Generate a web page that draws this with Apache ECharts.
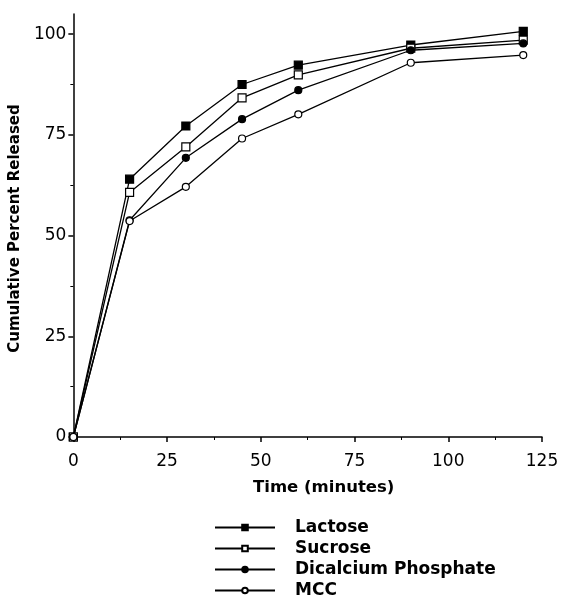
<!DOCTYPE html>
<html><head><meta charset="utf-8">
<script src="https://cdn.jsdelivr.net/npm/echarts@6/dist/echarts.min.js"></script>
<style>html,body{margin:0;padding:0;background:#fff}#c{width:563px;height:605px}</style>
</head><body><div id="c"></div>
<script>
const times = [0, 15, 30, 45, 60, 90, 120];
const lactose = [0, 64.0, 77.2, 87.5, 92.3, 97.3, 100.7];
const sucrose = [0, 60.7, 72.0, 84.2, 89.9, 96.5, 98.5];
const dicalcium = [0, 53.8, 69.3, 78.9, 86.1, 96.0, 97.7];
const mcc = [0, 53.6, 62.1, 74.1, 80.1, 92.9, 94.8];
const xTicks = [0, 25, 50, 75, 100, 125];
const yTicks = [0, 25, 50, 75, 100];
const seriesNames = ['Lactose', 'Sucrose', 'Dicalcium Phosphate', 'MCC'];

const pair = arr => times.map((t, i) => [t, arr[i]]);
const styles = [
  {symbol: 'rect', fill: '#000', size: 8},
  {symbol: 'rect', fill: '#fff', size: 8},
  {symbol: 'circle', fill: '#000', size: 7},
  {symbol: 'circle', fill: '#fff', size: 7}
];
const dataSets = [lactose, sucrose, dicalcium, mcc];

const chart = echarts.init(document.getElementById('c'), null, {renderer: 'canvas'});
chart.setOption({
  backgroundColor: '#fff',
  animation: false,
  grid: {left: 73, right: 21, top: 14, bottom: 168, containLabel: false},
  xAxis: {
    type: 'value', min: 0, max: 125, interval: 25,
    name: 'Time (minutes)', nameLocation: 'middle', nameGap: 42,
    nameTextStyle: {fontFamily: 'DejaVu Sans', fontWeight: 'bold', fontSize: 16.5, color: '#000', padding: [0, 0, 0, 32]},
    axisLine: {lineStyle: {color: '#000', width: 1.5}},
    axisTick: {show: true, inside: false, length: 5, customValues: xTicks, lineStyle: {color: '#000', width: 1.5}},
    minorTick: {show: true, splitNumber: 2, length: 3, lineStyle: {color: '#000', width: 1}},
    splitLine: {show: false},
    axisLabel: {fontFamily: 'DejaVu Sans', fontSize: 17, color: '#000', margin: 16, customValues: xTicks}
  },
  yAxis: {
    type: 'value', min: 0, max: 105, interval: 25,
    name: 'Cumulative Percent Released', nameLocation: 'middle', nameGap: 44, nameRotate: 90,
    nameTextStyle: {fontFamily: 'DejaVu Sans', fontWeight: 'bold', fontSize: 15, color: '#000', padding: [0, 6, 0, 0]},
    axisLine: {lineStyle: {color: '#000', width: 1.5}},
    axisTick: {show: true, inside: false, length: 5, customValues: yTicks, lineStyle: {color: '#000', width: 1.5}},
    minorTick: {show: true, splitNumber: 2, length: 3, lineStyle: {color: '#000', width: 1}},
    splitLine: {show: false},
    axisLabel: {fontFamily: 'DejaVu Sans', fontSize: 17, color: '#000', margin: 7, customValues: yTicks}
  },
  legend: {
    orient: 'vertical', left: 209, top: 514,
    itemWidth: 60, itemHeight: 7, itemGap: 4,
    data: seriesNames,
    textStyle: {fontFamily: 'DejaVu Sans', fontWeight: 'bold', fontSize: 17, color: '#000', padding: [0, 0, 0, 15]}
  },
  series: seriesNames.map((n, k) => ({
    name: n, type: 'line', data: pair(dataSets[k]),
    symbol: styles[k].symbol, symbolSize: styles[k].size, showSymbol: true,
    lineStyle: {color: '#000', width: 1.3},
    itemStyle: {color: styles[k].fill, borderColor: '#000', borderWidth: 1.2},
    z: 2 + k
  }))
});
</script></body></html>
